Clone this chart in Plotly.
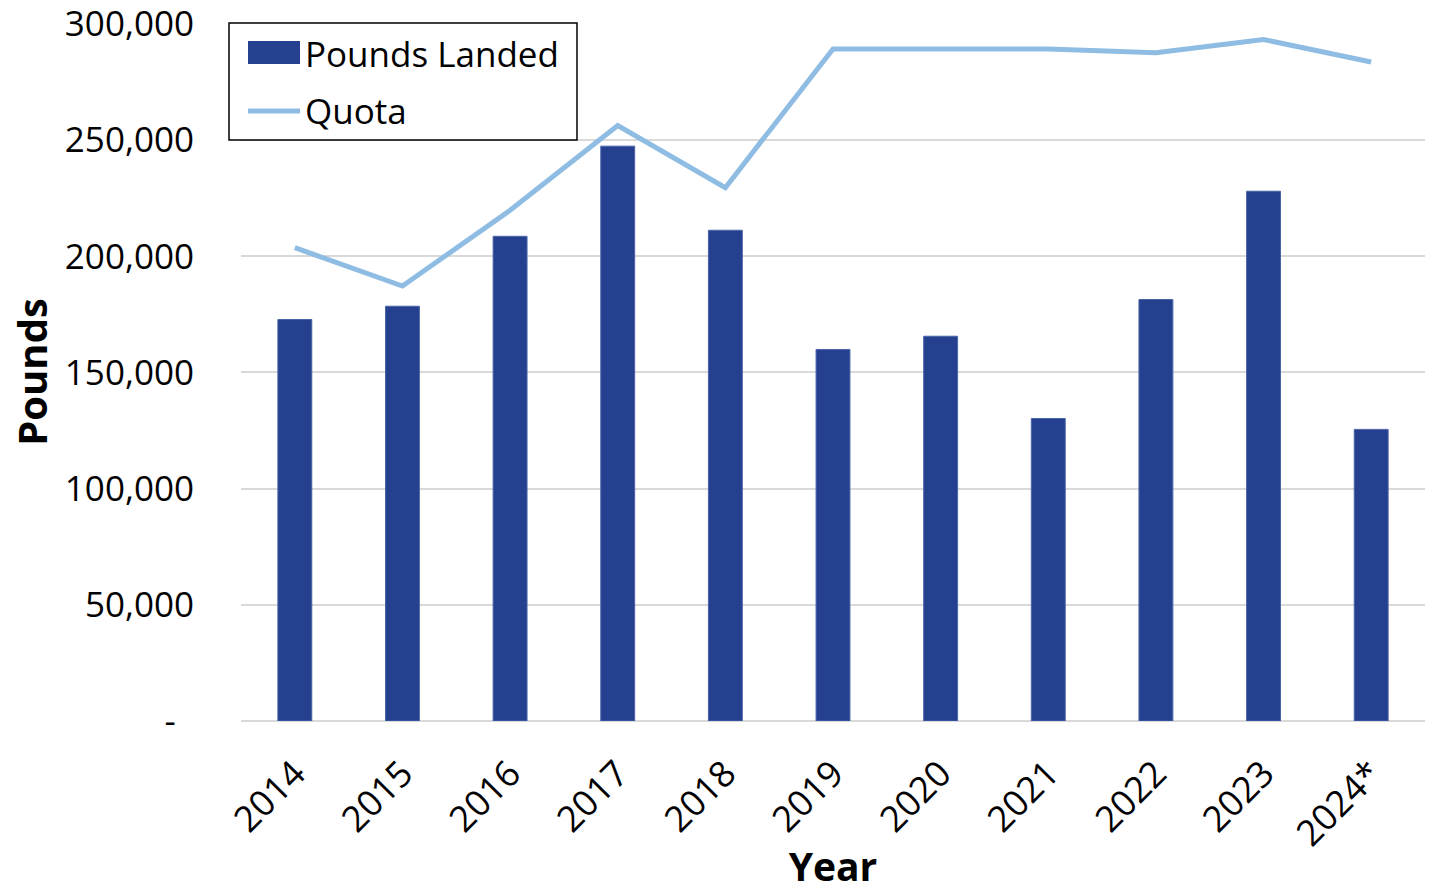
import plotly.graph_objects as go

years = ["2014", "2015", "2016", "2017", "2018", "2019", "2020", "2021", "2022", "2023", "2024*"]
pounds_landed = [172800, 178500, 208600, 247400, 211200, 159900, 165600, 130200, 181400, 228000, 125500]
quota = [203700, 187200, 219800, 256300, 229500, 289200, 289200, 289200, 287600, 293300, 283600]

tick_vals = [0, 50000, 100000, 150000, 200000, 250000, 300000]
tick_text = ["-\u00a0\u00a0", "50,000", "100,000", "150,000", "200,000", "250,000", "300,000"]

FONT = "Open Sans"
BAR_COLOR = "#25408f"
LINE_COLOR = "#8fbce3"

# plot area in pixels (for legend placement conversion)
L, R, T, B = 241, 1425, 23, 721
def px(xp):
    return (xp - L) / (R - L)
def py(yp):
    return (B - yp) / (B - T)

fig = go.Figure()
fig.add_trace(go.Bar(
    x=years, y=pounds_landed, name="Pounds Landed",
    marker=dict(color=BAR_COLOR, line=dict(color="#4a64a8", width=1)),
    width=0.315, showlegend=False,
))
fig.add_trace(go.Scatter(
    x=years, y=quota, name="Quota", mode="lines",
    line=dict(color=LINE_COLOR, width=5), showlegend=False,
))

shapes = [
    # legend box
    dict(type="rect", xref="paper", yref="paper",
         x0=px(229), x1=px(577), y0=py(140), y1=py(23),
         line=dict(color="black", width=1.5), fillcolor="white", layer="above"),
    # bar swatch
    dict(type="rect", xref="paper", yref="paper",
         x0=px(248), x1=px(300), y0=py(64), y1=py(41),
         line=dict(width=0), fillcolor=BAR_COLOR, layer="above"),
    # line swatch
    dict(type="line", xref="paper", yref="paper",
         x0=px(248), x1=px(300), y0=py(111), y1=py(111),
         line=dict(color=LINE_COLOR, width=5), layer="above"),
]
annotations = [
    dict(text="Pounds Landed", xref="paper", yref="paper", x=px(303), y=py(53),
         xanchor="left", yanchor="middle", showarrow=False,
         font=dict(family=FONT, size=35, color="black")),
    dict(text="Quota", xref="paper", yref="paper", x=px(303), y=py(111),
         xanchor="left", yanchor="middle", showarrow=False,
         font=dict(family=FONT, size=35, color="black")),
]

fig.update_layout(
    width=1436, height=892,
    margin=dict(l=L, r=1436 - R, t=T, b=892 - B, autoexpand=False),
    paper_bgcolor="white", plot_bgcolor="white",
    font=dict(family=FONT, size=34, color="black"),
    showlegend=False,
    shapes=shapes, annotations=annotations,
    bargap=0.685,
)
fig.update_xaxes(
    tickangle=-45, showgrid=False, showline=False,
    ticks="outside", ticklen=16, tickcolor="rgba(0,0,0,0)",
    tickfont=dict(family=FONT, size=36),
    automargin=False, ticklabeloverflow="allow",
    title=dict(text="<b>Year</b>", font=dict(family=FONT, size=39), standoff=12),
)
fig.update_yaxes(
    range=[0, 300400], tickvals=tick_vals, ticktext=tick_text,
    showgrid=True, gridcolor="#d9d9d9", gridwidth=1.5,
    zeroline=True, zerolinecolor="#d9d9d9", zerolinewidth=1.5,
    showline=False, ticks="outside", ticklen=39, tickcolor="rgba(0,0,0,0)",
    tickfont=dict(family=FONT, size=35),
    automargin=False, ticklabeloverflow="allow",
    title=dict(text="<b>Pounds</b>", font=dict(family=FONT, size=40), standoff=4),
)

fig.write_html("out.html", config={"displayModeBar": False},
               post_script="document.body.style.margin='0';")
